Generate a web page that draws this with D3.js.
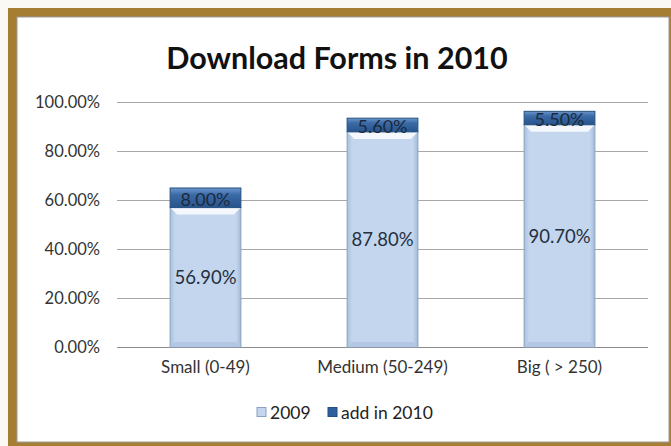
<!DOCTYPE html>
<html>
<head>
<meta charset="utf-8">
<script src="https://cdn.jsdelivr.net/npm/d3@7"></script>
<style>
  html, body { margin: 0; padding: 0; background: #fbf9f4; }
  svg { display: block; }
</style>
</head>
<body>
<svg id="chart" width="671" height="446"></svg>
<script>
// Chart data
const categories = ["Small (0-49)", "Medium (50-249)", "Big ( > 250)"];
const base2009 = [56.9, 87.8, 90.7];
const added2010 = [8.0, 5.6, 5.5];
const seriesNames = ["2009", "add in 2010"];
const yTicks = [0, 20, 40, 60, 80, 100];
const titleText = "Download Forms in 2010";

const W = 671, H = 446;
const svg = d3.select("#chart");
const FONT = "Lato, 'Open Sans', sans-serif";

// Gold frame and white panel
svg.append("rect").attr("x", 8).attr("y", 8).attr("width", W - 8 + 2).attr("height", H - 8 + 2)
  .attr("fill", "#a67e33");
svg.append("rect").attr("x", 17).attr("y", 17).attr("width", 652).attr("height", 425)
  .attr("fill", "#ffffff").attr("stroke", "#9a9a9a").attr("stroke-width", 1);

// Gradients for bevelled bars
const defs = svg.append("defs");
const gLight = defs.append("linearGradient").attr("id", "gLight").attr("x1", 0).attr("x2", 1).attr("y1", 0).attr("y2", 0);
gLight.append("stop").attr("offset", "0%").attr("stop-color", "#a9bfdb");
gLight.append("stop").attr("offset", "7%").attr("stop-color", "#c3d6ee");
gLight.append("stop").attr("offset", "93%").attr("stop-color", "#c3d6ee");
gLight.append("stop").attr("offset", "100%").attr("stop-color", "#a3b9d6");
const gDark = defs.append("linearGradient").attr("id", "gDark").attr("x1", 0).attr("x2", 0).attr("y1", 0).attr("y2", 1);
gDark.append("stop").attr("offset", "0%").attr("stop-color", "#6b97cc");
gDark.append("stop").attr("offset", "35%").attr("stop-color", "#3b6aa6");
gDark.append("stop").attr("offset", "100%").attr("stop-color", "#27548c");

// Scales
const plot = { left: 117, right: 648, top: 102, bottom: 347 };
const x = d3.scaleBand().domain(categories).range([plot.left, plot.right]).paddingInner(0.6).paddingOuter(0.3);
const y = d3.scaleLinear().domain([0, 100]).range([plot.bottom, plot.top]);

// Title
svg.append("text").attr("x", 337).attr("y", 69).attr("text-anchor", "middle")
  .attr("font-family", FONT).attr("font-weight", "bold").attr("font-size", 30.5)
  .attr("fill", "#111").text(titleText);

// Gridlines
svg.append("g").selectAll("line").data(yTicks).join("line")
  .attr("x1", plot.left).attr("x2", plot.right)
  .attr("y1", d => y(d) + 0.5).attr("y2", d => y(d) + 0.5)
  .attr("stroke", d => d === 0 ? "#8c8c8c" : "#a8a8a8").attr("stroke-width", 1);

// Y axis labels
const yAxis = svg.append("g").attr("transform", `translate(${plot.left - 17},0)`)
  .call(d3.axisLeft(y).tickValues(yTicks).tickSize(0).tickPadding(0).tickFormat(d => d.toFixed(2) + "%"));
yAxis.select(".domain").remove();
yAxis.selectAll("text").attr("font-family", FONT).attr("font-size", 16.5).attr("fill", "#333");

// X axis labels
const xAxis = svg.append("g").attr("transform", `translate(0,${plot.bottom + 14})`)
  .call(d3.axisBottom(x).tickSize(0).tickPadding(0));
xAxis.select(".domain").remove();
xAxis.selectAll("text").attr("font-family", FONT).attr("font-size", 17).attr("fill", "#333");

// Stacked bars
const rows = categories.map((c, i) => ({ cat: c, a: base2009[i], b: added2010[i] }));
const bars = svg.append("g").selectAll("g").data(rows).join("g");
const bw = x.bandwidth();

// Lower segment (2009)
bars.append("rect")
  .attr("x", d => x(d.cat)).attr("width", bw)
  .attr("y", d => y(d.a)).attr("height", d => y(0) - y(d.a))
  .attr("fill", "url(#gLight)").attr("stroke", "#8aa2c2").attr("stroke-width", 1);
// bevel highlight at the top of the lower segment
bars.append("path")
  .attr("d", d => {
    const x0 = x(d.cat), yt = y(d.a);
    return `M${x0},${yt} L${x0 + bw},${yt} L${x0 + bw - 7},${yt + 7} L${x0 + 7},${yt + 7} Z`;
  })
  .attr("fill", "#f4f8fd");
// bevel shadow at the bottom
bars.append("path")
  .attr("d", d => {
    const x0 = x(d.cat), yb = y(0);
    return `M${x0},${yb} L${x0 + bw},${yb} L${x0 + bw - 5},${yb - 5} L${x0 + 5},${yb - 5} Z`;
  })
  .attr("fill", "#b3c7e2");

// Upper segment (add in 2010)
bars.append("rect")
  .attr("x", d => x(d.cat)).attr("width", bw)
  .attr("y", d => y(d.a + d.b)).attr("height", d => y(d.a) - y(d.a + d.b))
  .attr("fill", "url(#gDark)").attr("stroke", "#25507f").attr("stroke-width", 1);

// Value labels
bars.append("text")
  .attr("x", d => x(d.cat) + bw / 2).attr("y", d => (y(0) + y(d.a)) / 2)
  .attr("text-anchor", "middle").attr("dominant-baseline", "central")
  .attr("font-family", FONT).attr("font-size", 18.5).attr("fill", "#24303f")
  .text(d => d.a.toFixed(2) + "%");
bars.append("text")
  .attr("x", d => x(d.cat) + bw / 2).attr("y", d => (y(d.a) + y(d.a + d.b)) / 2 + 1)
  .attr("text-anchor", "middle").attr("dominant-baseline", "central")
  .attr("font-family", FONT).attr("font-size", 18).attr("fill", "#1b2a3d")
  .text(d => d.b.toFixed(2) + "%");

// Legend
const legend = svg.append("g").attr("transform", "translate(257,412)");
const items = [
  { name: seriesNames[0], fill: "#c3d6ee", stroke: "#8aa2c2", x: 0 },
  { name: seriesNames[1], fill: "#2f5f9c", stroke: "#25507f", x: 71 }
];
const li = legend.selectAll("g").data(items).join("g").attr("transform", d => `translate(${d.x},0)`);
li.append("rect").attr("x", 0).attr("y", -4.5).attr("width", 9).attr("height", 9)
  .attr("fill", d => d.fill).attr("stroke", d => d.stroke);
li.append("text").attr("x", 13).attr("y", 0).attr("dominant-baseline", "central")
  .attr("font-family", FONT).attr("font-size", 17.5).attr("fill", "#222").text(d => d.name);
</script>
</body>
</html>
